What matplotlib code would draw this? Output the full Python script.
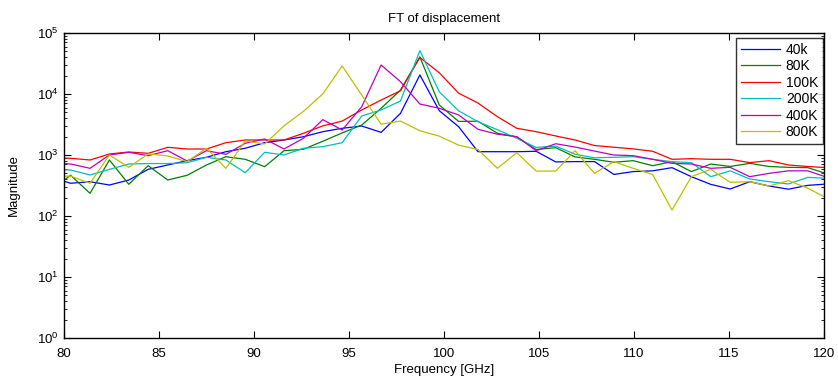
import matplotlib
matplotlib.use("Agg")
import matplotlib.pyplot as plt
from matplotlib.ticker import LogLocator, MultipleLocator, NullFormatter

plt.rcParams['font.family'] = ['Liberation Sans', 'DejaVu Sans']
plt.rcParams['mathtext.fontset'] = 'custom'
plt.rcParams['mathtext.rm'] = 'Liberation Sans'

freq = [79.33, 80.35, 81.37, 82.39, 83.41, 84.43, 85.46, 86.48, 87.50, 88.52,
        89.54, 90.56, 91.58, 92.60, 93.62, 94.64, 95.67, 96.69, 97.71, 98.73,
        99.75, 100.77, 101.79, 102.81, 103.83, 104.85, 105.88, 106.90, 107.92, 108.94,
        109.96, 110.98, 112.00, 113.02, 114.04, 115.06, 116.09, 117.11, 118.13, 119.15,
        120.17]

mag_40k = [430, 344, 365, 322, 389, 582, 686, 807, 917, 1133,
           1289, 1592, 1762, 1995, 2410, 2740, 2990, 2350, 4820, 20500,
           5330, 2910, 1133, 1133, 1133, 1150, 770, 780, 780, 480,
           535, 550, 620, 441, 330, 277, 365, 310, 275, 318,
           335]
mag_80k = [270, 465, 235, 828, 331, 668, 389, 465, 686, 937,
           850, 643, 1177, 1240, 1680, 2300, 3100, 5830, 11600, 40600,
           6610, 3550, 3580, 2270, 1980, 1230, 1320, 930, 850, 760,
           807, 668, 777, 535, 712, 648, 730, 648, 628, 620,
           490]
mag_100k = [900, 883, 828, 1040, 1120, 1065, 1337, 1254, 1254, 1592,
            1762, 1762, 1762, 2270, 3000, 3600, 5470, 7960, 11300, 39800,
            22300, 10300, 7100, 4250, 2740, 2410, 2050, 1762, 1430, 1340,
            1260, 1150, 850, 870, 850, 850, 750, 807, 686, 648,
            620]
mag_200k = [570, 568, 470, 582, 712, 724, 724, 748, 917, 828,
            512, 1107, 1000, 1289, 1370, 1590, 4360, 5470, 7680, 51300,
            10900, 5300, 3510, 2600, 1880, 1330, 1400, 1030, 900, 917,
            937, 850, 777, 750, 441, 550, 405, 365, 335, 430,
            415]
mag_400k = [750, 712, 605, 1000, 1107, 975, 1177, 797, 1177, 1026,
            1556, 1830, 1254, 1880, 3800, 2570, 6190, 29900, 15900, 6850,
            5830, 4530, 2640, 2190, 2000, 1177, 1530, 1350, 1160, 1000,
            975, 850, 730, 712, 605, 628, 441, 500, 550, 550,
            430]
mag_800k = [450, 450, 344, 1000, 628, 1040, 963, 777, 1290, 605,
            1697, 1515, 3000, 5200, 10000, 28800, 9600, 3200, 3600, 2500,
            2040, 1450, 1230, 605, 1090, 545, 545, 1177, 500, 777,
            605, 480, 125, 441, 582, 356, 365, 310, 380, 285,
            195]

labels = ['40k', '80K', '100K', '200K', '400K', '800K']
colors = [(0, 0, 1), (0, 0.5, 0), (1, 0, 0), (0, 0.75, 0.75), (0.75, 0, 0.75), (0.75, 0.75, 0)]
series = [mag_40k, mag_80k, mag_100k, mag_200k, mag_400k, mag_800k]

fig = plt.figure(figsize=(8.38, 3.85), dpi=100)
ax = fig.add_axes([64/838, 1-338/385, (824-64)/838, (338-33)/385])

for s, c, lab in zip(series, colors, labels):
    ax.plot(freq, s, color=c, lw=0.9, label=lab)

ax.set_yscale('log')
ax.set_xlim(80, 120)
ax.set_ylim(1, 1e5)
ax.xaxis.set_major_locator(MultipleLocator(5))
ax.yaxis.set_major_locator(LogLocator(base=10, numticks=10))
ax.yaxis.set_minor_locator(LogLocator(base=10, subs=range(2, 10), numticks=20))
ax.yaxis.set_minor_formatter(NullFormatter())
ax.tick_params(which='both', direction='in', top=True, right=True, labelsize=9.5)
ax.tick_params(axis='x', which='major', pad=7)
ax.tick_params(axis='y', which='major', pad=4)
ax.tick_params(which='major', length=5, width=0.8)
ax.tick_params(which='minor', length=2.5, width=0.6)
for sp in ax.spines.values():
    sp.set_linewidth(1.0)

ax.set_title('FT of displacement', fontsize=9.5, pad=8)
ax.set_xlabel('Frequency [GHz]', fontsize=9.5, labelpad=3)
ax.set_ylabel('Magnitude', fontsize=9.5, labelpad=12)

leg = ax.legend(loc='upper right', bbox_to_anchor=(0.999, 0.984), borderaxespad=0,
                fontsize=10, frameon=True, fancybox=False,
                edgecolor='black', handlelength=2.8, handletextpad=0.4,
                labelspacing=0.18, borderpad=0.35)
leg.get_frame().set_linewidth(1.0)

fig.savefig('out.png', dpi=100)
